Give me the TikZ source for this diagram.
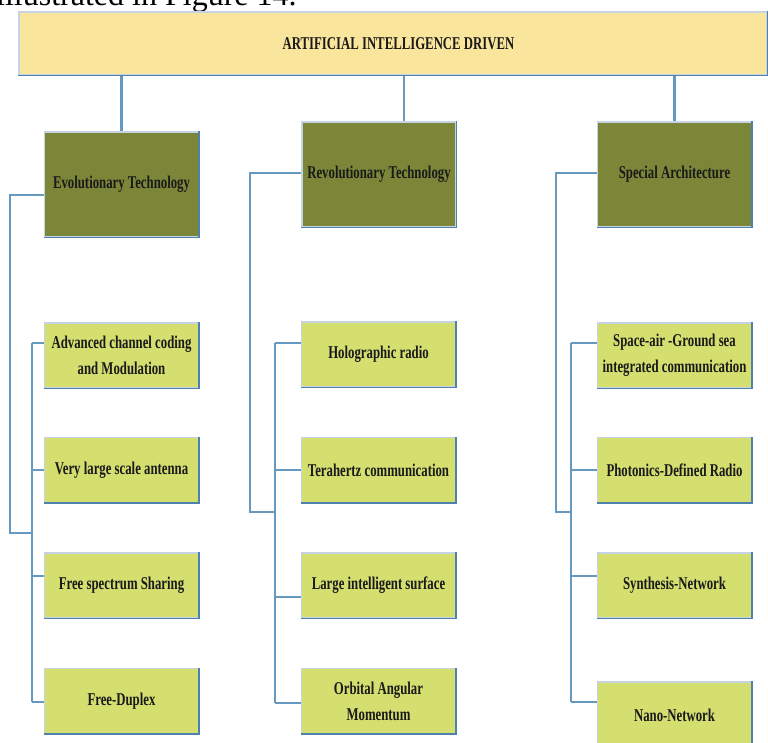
\documentclass[tikz,border=0pt]{standalone}
\usepackage{fontspec}
\setmainfont{Liberation Serif}
\newfontfamily\lblfont{Liberation Serif}[FakeStretch=0.71]
\definecolor{topfill}{HTML}{F9E59B}
\definecolor{catfill}{HTML}{7C8638}
\definecolor{leaffill}{HTML}{D4DF6F}
\definecolor{connc}{HTML}{6699BF}
\definecolor{edgelight}{HTML}{C5D3E3}
\definecolor{edgedark}{HTML}{4E81AB}
\definecolor{txt}{HTML}{1A1A1A}
\begin{document}
\begin{tikzpicture}[x=1pt,y=-1pt,
  box/.style={rectangle, inner sep=0pt, draw=edgelight, line width=1.2pt,
    font=\lblfont\bfseries\fontsize{18}{26}\selectfont, text=txt, align=center},
  topbox/.style={box, fill=topfill, minimum width=748pt, minimum height=63pt},
  catbox/.style={box, fill=catfill, minimum width=154pt, minimum height=105pt},
  leafbox/.style={box, fill=leaffill, minimum width=154pt, minimum height=65pt},
  conn/.style={draw=connc, line width=2.4pt},
  darkedge/.style={draw=edgedark, line width=1.6pt}]
\useasboundingbox (0,0) rectangle (768,743);
\clip (0,0) rectangle (768,743);
\fill[white] (0,0) rectangle (768,743);

% cut-off caption text at the top
\node[anchor=base west, inner sep=0pt, font=\fontsize{32}{32}\selectfont, text=black] (cap) at (-4,6) {illustrated in Figure 14.};

% top
\node[topbox] (top) at (393,43.5) {};
\node[font=\lblfont\bfseries\fontsize{18}{26}\selectfont, text=txt, inner sep=0pt] (toptext) at (398.5,44) {ARTIFICIAL INTELLIGENCE DRIVEN};

% categories
\node[catbox] (ev) at (121.5,184.5) {\raisebox{-2pt}{Evolutionary Technology}};
\node[catbox] (rev) at (379,174.5) {\raisebox{-2pt}{Revolutionary Technology}};
\node[catbox] (spec) at (674.5,174.5) {\raisebox{-2pt}{Special Architecture}};

% leaves column 1
\node[leafbox] (l11) at (121.5,355.5) {Advanced channel coding\\and Modulation};
\node[leafbox] (l12) at (121.5,470) {Very large scale antenna};
\node[leafbox] (l13) at (121.5,585.5) {Free spectrum Sharing};
\node[leafbox] (l14) at (121.5,701) {Free-Duplex};
% column 2
\node[leafbox] (l21) at (378.5,354.5) {Holographic radio};
\node[leafbox] (l22) at (378.5,470) {Terahertz communication};
\node[leafbox] (l23) at (378.5,585.5) {Large intelligent surface};
\node[leafbox] (l24) at (378.5,701) {Orbital Angular\\Momentum};
% column 3
\node[leafbox] (l31) at (674.5,355.5) {Space-air -Ground sea\\integrated communication};
\node[leafbox] (l32) at (674.5,470) {Photonics-Defined Radio};
\node[leafbox] (l33) at (674.5,585.5) {Synthesis-Network};
\node[leafbox, minimum height=66pt] (l34) at (674.5,715) {Nano-Network};

\foreach \n in {top,ev,rev,spec,l11,l12,l13,l14,l21,l22,l23,l24,l31,l32,l33,l34}
  \draw[darkedge] (\n.south west) -- (\n.south east) -- (\n.north east);

% top connectors
\coordinate (c2) at (404,0);
\draw[conn] (top.south -| ev.north) -- (ev.north);
\draw[conn] (top.south -| c2) -- (rev.north -| c2);
\draw[conn] (top.south -| spec.north) -- (spec.north);

% column 1 connectors
\coordinate (j1a) at (10,533);
\coordinate (j1b) at (32,533);
\coordinate (b11) at (32,343);
\coordinate (b12) at (32,470);
\coordinate (b13) at (32,576);
\coordinate (b14) at (32,702);
\draw[conn] ([yshift=-10.5pt]ev.west) -| (j1a) -- (j1b);
\draw[conn] (b11) -- (b14);
\draw[conn] (b11) -- (l11.west |- b11);
\draw[conn] (b12) -- (l12.west |- b12);
\draw[conn] (b13) -- (l13.west |- b13);
\draw[conn] (b14) -- (l14.west |- b14);

% column 2 connectors
\coordinate (j2a) at (250,512);
\coordinate (j2b) at (275,512);
\coordinate (b21) at (275,343);
\coordinate (b22) at (275,470);
\coordinate (b23) at (275,597);
\coordinate (b24) at (275,703);
\draw[conn] ([yshift=1.5pt]rev.west) -| (j2a) -- (j2b);
\draw[conn] (b21) -- (b24);
\draw[conn] (b21) -- (l21.west |- b21);
\draw[conn] (b22) -- (l22.west |- b22);
\draw[conn] (b23) -- (l23.west |- b23);
\draw[conn] (b24) -- (l24.west |- b24);

% column 3 connectors
\coordinate (j3a) at (556,512);
\coordinate (j3b) at (571,512);
\coordinate (b31) at (571,343);
\coordinate (b32) at (571,470);
\coordinate (b33) at (571,576);
\coordinate (b34) at (571,702);
\draw[conn] ([yshift=1.5pt]spec.west) -| (j3a) -- (j3b);
\draw[conn] (b31) -- (b34);
\draw[conn] (b31) -- (l31.west |- b31);
\draw[conn] (b32) -- (l32.west |- b32);
\draw[conn] (b33) -- (l33.west |- b33);
\draw[conn] (b34) -- (l34.west |- b34);
\end{tikzpicture}
\end{document}
